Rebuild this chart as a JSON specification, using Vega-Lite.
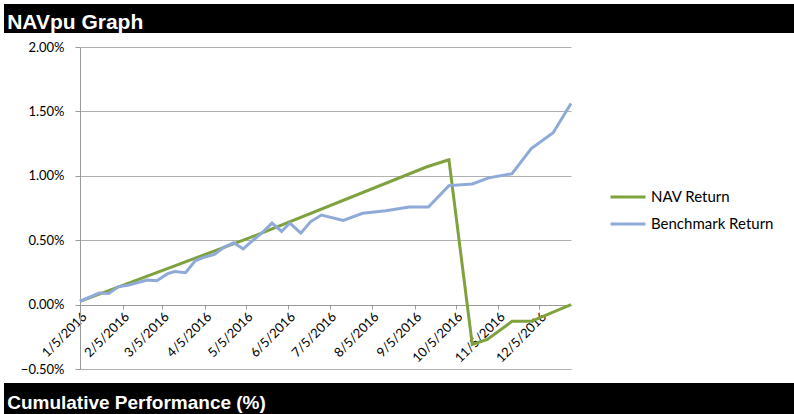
{
  "$schema": "https://vega.github.io/schema/vega-lite/v6.json",
  "padding": {"left": 4, "top": 4, "right": 0, "bottom": 0},
  "background": "white",
  "spacing": 14,
  "bounds": "flush",
  "config": {"view": {"stroke": null}, "font": "Lato"},
  "vconcat": [
    {
      "width": 790,
      "height": 29,
      "view": {"fill": "black", "stroke": null},
      "data": {"values": [{"label": "NAVpu Graph"}]},
      "mark": {"type": "text", "align": "left", "baseline": "alphabetic", "font": "Liberation Sans", "fontWeight": "bold", "fontSize": 21, "color": "white"},
      "encoding": {
        "text": {"field": "label"},
        "x": {"datum": 0.004, "type": "quantitative", "scale": {"domain": [0, 1]}, "axis": null},
        "y": {"datum": 0.14, "type": "quantitative", "scale": {"domain": [0, 1]}, "axis": null}
      }
    },
    {
      "width": 567,
      "height": 322,
      "data": {
        "values": [
          {"date": "2016-01-05", "series": "NAV Return", "value": 0.00025},
          {"date": "2016-05-08", "series": "NAV Return", "value": 0.0052},
          {"date": "2016-09-14", "series": "NAV Return", "value": 0.0107},
          {"date": "2016-09-30", "series": "NAV Return", "value": 0.01125},
          {"date": "2016-10-17", "series": "NAV Return", "value": -0.0031},
          {"date": "2016-10-28", "series": "NAV Return", "value": -0.0027},
          {"date": "2016-11-15", "series": "NAV Return", "value": -0.0013},
          {"date": "2016-11-29", "series": "NAV Return", "value": -0.0013},
          {"date": "2016-12-28", "series": "NAV Return", "value": 0.0},
          {"date": "2016-01-05", "series": "Benchmark Return", "value": 0.00026},
          {"date": "2016-01-19", "series": "Benchmark Return", "value": 0.0009},
          {"date": "2016-01-26", "series": "Benchmark Return", "value": 0.00087},
          {"date": "2016-02-02", "series": "Benchmark Return", "value": 0.0014},
          {"date": "2016-02-09", "series": "Benchmark Return", "value": 0.0015},
          {"date": "2016-02-23", "series": "Benchmark Return", "value": 0.0019},
          {"date": "2016-03-01", "series": "Benchmark Return", "value": 0.00185},
          {"date": "2016-03-09", "series": "Benchmark Return", "value": 0.0024},
          {"date": "2016-03-14", "series": "Benchmark Return", "value": 0.00256},
          {"date": "2016-03-22", "series": "Benchmark Return", "value": 0.00247},
          {"date": "2016-03-29", "series": "Benchmark Return", "value": 0.0034},
          {"date": "2016-04-05", "series": "Benchmark Return", "value": 0.0037},
          {"date": "2016-04-12", "series": "Benchmark Return", "value": 0.0039},
          {"date": "2016-04-19", "series": "Benchmark Return", "value": 0.00445},
          {"date": "2016-04-26", "series": "Benchmark Return", "value": 0.0048},
          {"date": "2016-05-03", "series": "Benchmark Return", "value": 0.00432},
          {"date": "2016-05-10", "series": "Benchmark Return", "value": 0.00498},
          {"date": "2016-05-17", "series": "Benchmark Return", "value": 0.0056},
          {"date": "2016-05-24", "series": "Benchmark Return", "value": 0.00633},
          {"date": "2016-05-31", "series": "Benchmark Return", "value": 0.00568},
          {"date": "2016-06-06", "series": "Benchmark Return", "value": 0.00633},
          {"date": "2016-06-14", "series": "Benchmark Return", "value": 0.00555},
          {"date": "2016-06-21", "series": "Benchmark Return", "value": 0.00643},
          {"date": "2016-06-29", "series": "Benchmark Return", "value": 0.00695},
          {"date": "2016-07-15", "series": "Benchmark Return", "value": 0.00654},
          {"date": "2016-07-29", "series": "Benchmark Return", "value": 0.00709},
          {"date": "2016-08-15", "series": "Benchmark Return", "value": 0.00729},
          {"date": "2016-09-01", "series": "Benchmark Return", "value": 0.00758},
          {"date": "2016-09-15", "series": "Benchmark Return", "value": 0.00758},
          {"date": "2016-09-30", "series": "Benchmark Return", "value": 0.00924},
          {"date": "2016-10-17", "series": "Benchmark Return", "value": 0.00937},
          {"date": "2016-10-29", "series": "Benchmark Return", "value": 0.00984},
          {"date": "2016-11-15", "series": "Benchmark Return", "value": 0.01016},
          {"date": "2016-11-29", "series": "Benchmark Return", "value": 0.01211},
          {"date": "2016-12-15", "series": "Benchmark Return", "value": 0.01334},
          {"date": "2016-12-28", "series": "Benchmark Return", "value": 0.01562}
        ]
      },
      "mark": {"type": "line", "strokeWidth": 3, "strokeJoin": "miter"},
      "encoding": {
        "x": {
          "field": "date",
          "type": "temporal",
          "scale": {
            "type": "utc",
            "nice": false,
            "range": [76, 567],
            "domain": [
              {"year": 2016, "month": 1, "date": 5, "utc": true},
              {"year": 2016, "month": 12, "date": 28, "utc": true}
            ]
          },
          "axis": {
            "title": null,
            "values": [
              {"year": 2016, "month": 1, "date": 5, "utc": true},
              {"year": 2016, "month": 2, "date": 5, "utc": true},
              {"year": 2016, "month": 3, "date": 5, "utc": true},
              {"year": 2016, "month": 4, "date": 5, "utc": true},
              {"year": 2016, "month": 5, "date": 5, "utc": true},
              {"year": 2016, "month": 6, "date": 5, "utc": true},
              {"year": 2016, "month": 7, "date": 5, "utc": true},
              {"year": 2016, "month": 8, "date": 5, "utc": true},
              {"year": 2016, "month": 9, "date": 5, "utc": true},
              {"year": 2016, "month": 10, "date": 5, "utc": true},
              {"year": 2016, "month": 11, "date": 5, "utc": true},
              {"year": 2016, "month": 12, "date": 5, "utc": true}
            ],
            "format": "%-m/%-d/%Y",
            "labelAngle": -45,
            "labelAlign": "right",
            "labelBaseline": "top",
            "labelFont": "Lato",
            "labelFontSize": 13,
            "labelColor": "#000000",
            "labelPadding": 1,
            "labelOverlap": false,
            "labelFlush": false,
            "labelBound": false,
            "offset": -64,
            "grid": false,
            "domainColor": "#9A9A9A",
            "tickColor": "#9A9A9A",
            "tickSize": 4
          }
        },
        "y": {
          "field": "value",
          "type": "quantitative",
          "scale": {"domain": [-0.005, 0.02], "nice": false, "zero": false},
          "axis": {
            "title": null,
            "values": [-0.005, 0, 0.005, 0.01, 0.015, 0.02],
            "format": ".2%",
            "grid": true,
            "gridColor": "#B0B0B0",
            "domainColor": "#9A9A9A",
            "tickColor": "#9A9A9A",
            "tickSize": 5,
            "labelPadding": 11,
            "labelFont": "Lato",
            "labelFontSize": 13,
            "labelColor": "#000000",
            "offset": -76
          }
        },
        "color": {
          "field": "series",
          "type": "nominal",
          "scale": {"domain": ["NAV Return", "Benchmark Return"], "range": ["#7FA23E", "#8FAAD8"]},
          "legend": {
            "title": null,
            "orient": "none",
            "legendX": 605,
            "legendY": 174,
            "symbolType": "stroke",
            "symbolSize": 1225,
            "symbolStrokeWidth": 3,
            "labelFont": "Lato",
            "labelFontSize": 15,
            "labelColor": "#000000",
            "labelOffset": 4,
            "rowPadding": -11
          }
        }
      }
    },
    {
      "width": 790,
      "height": 31,
      "view": {"fill": "black", "stroke": null},
      "data": {"values": [{"label": "Cumulative Performance (%)"}]},
      "mark": {"type": "text", "align": "left", "baseline": "alphabetic", "font": "Liberation Sans", "fontWeight": "bold", "fontSize": 19, "color": "white"},
      "encoding": {
        "text": {"field": "label"},
        "x": {"datum": 0.004, "type": "quantitative", "scale": {"domain": [0, 1]}, "axis": null},
        "y": {"datum": 0.16, "type": "quantitative", "scale": {"domain": [0, 1]}, "axis": null}
      }
    }
  ]
}
